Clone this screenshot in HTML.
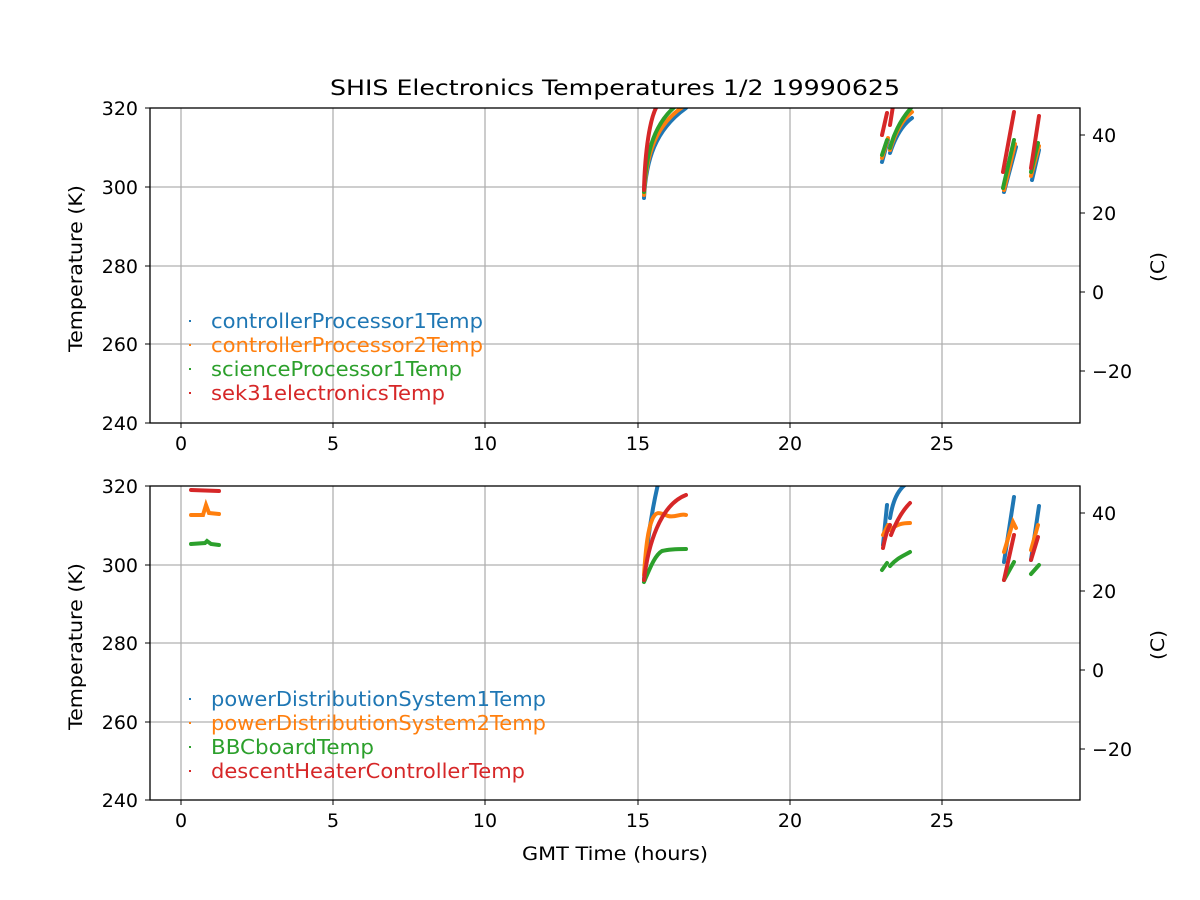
<!DOCTYPE html>
<html><head><style>body{margin:0;background:#fff}svg{display:block}text{font-family:"DejaVu Sans","Liberation Sans",sans-serif}</style></head><body>
<svg width="1200" height="900" xmlns="http://www.w3.org/2000/svg">
<defs>
<clipPath id="c1"><rect x="150" y="108" width="930" height="315"/></clipPath>
<clipPath id="c2"><rect x="150" y="486" width="930" height="314"/></clipPath>
</defs>
<text x="330" y="95" font-size="21" textLength="570" lengthAdjust="spacingAndGlyphs">SHIS Electronics Temperatures 1/2 19990625</text>
<g stroke="#b0b0b0" stroke-width="1.3">
<line x1="181" y1="108" x2="181" y2="423"/><line x1="333" y1="108" x2="333" y2="423"/><line x1="485" y1="108" x2="485" y2="423"/><line x1="638" y1="108" x2="638" y2="423"/><line x1="790" y1="108" x2="790" y2="423"/><line x1="942" y1="108" x2="942" y2="423"/>
<line x1="150" y1="187" x2="1080" y2="187"/><line x1="150" y1="266" x2="1080" y2="266"/><line x1="150" y1="344" x2="1080" y2="344"/>
<line x1="181" y1="486" x2="181" y2="800"/><line x1="333" y1="486" x2="333" y2="800"/><line x1="485" y1="486" x2="485" y2="800"/><line x1="638" y1="486" x2="638" y2="800"/><line x1="790" y1="486" x2="790" y2="800"/><line x1="942" y1="486" x2="942" y2="800"/>
<line x1="150" y1="565" x2="1080" y2="565"/><line x1="150" y1="643" x2="1080" y2="643"/><line x1="150" y1="722" x2="1080" y2="722"/>
</g>
<g fill="none" stroke-width="4" stroke-linecap="round" clip-path="url(#c1)">
<g stroke="#1f77b4"><path d="M644,198 C646,160 655,130 686,108"/><path d="M882,162 L888,140"/><path d="M890,153 C895,138 902,125 912,118"/><path d="M1004,192 L1016,147"/><path d="M1032,180 L1039,150"/></g>
<g stroke="#ff7f0e"><path d="M644,195 C646,155 655,125 684,106"/><path d="M882,158 L888,138"/><path d="M890,150 C895,133 902,120 912,112"/><path d="M1004,190 L1015,144"/><path d="M1031,176 L1039,146"/></g>
<g stroke="#2ca02c"><path d="M644,192 C646,150 655,122 678,104"/><path d="M882,155 L887,140"/><path d="M890,148 C895,130 902,118 911,108"/><path d="M1003,188 L1014,140"/><path d="M1031,172 L1038,143"/></g>
<g stroke="#d62728"><path d="M644,190 C645,150 650,118 657,106"/><path d="M882,135 L887,113"/><path d="M890,125 L893,106"/><path d="M1003,172 L1014,112"/><path d="M1031,168 L1039,116"/></g>
</g>
<g fill="none" stroke-width="4" stroke-linecap="round" clip-path="url(#c2)">
<g stroke="#1f77b4"><path d="M644,580 C647,540 652,510 658,484"/><path d="M883,545 L887,505"/><path d="M890,518 C893,500 898,490 906,484"/><path d="M1004,562 L1014,497"/><path d="M1031,560 L1039,506"/></g>
<g stroke="#ff7f0e"><path d="M644,575 C646,545 648,530 652,520 C656,510 660,513 668,516 C676,518 680,513 686,515"/><path d="M883,535 L888,525"/><path d="M890,530 C897,524 903,523 910,523"/><path d="M1004,552 L1013,522 L1016,528"/><path d="M1031,550 L1038,525"/></g>
<g stroke="#2ca02c"><path d="M644,582 C650,568 655,555 662,551 C670,549 678,549 686,549"/><path d="M882,570 L887,563"/><path d="M890,566 C897,558 903,556 910,552"/><path d="M1004,580 L1014,562"/><path d="M1031,574 L1039,565"/><path d="M191,544 L205,543 L207,541 L211,544 L219,545"/></g>
<g stroke="#d62728"><path d="M644,580 C648,545 660,505 686,495"/><path d="M883,548 C885,538 887,530 890,525"/><path d="M891,535 C896,522 903,510 910,503"/><path d="M1004,580 L1014,535"/><path d="M1031,560 L1038,537"/><path d="M191,490 L219,491"/></g>
<g stroke="#ff7f0e"><path d="M191,515 L203,515 L206,505 L209,513 L219,514"/></g>
</g>
<g fill="none" stroke="#000" stroke-width="1.3"><rect x="150" y="108" width="930" height="315"/><rect x="150" y="486" width="930" height="314"/></g>
<g stroke="#000" stroke-width="1">
<path d="M181,423v5M333,423v5M485,423v5M638,423v5M790,423v5M942,423v5M150,108h-5M150,187h-5M150,266h-5M150,344h-5M150,423h-5M1080,135h5M1080,213h5M1080,292h5M1080,371h5"/>
<path d="M181,800v5M333,800v5M485,800v5M638,800v5M790,800v5M942,800v5M150,486h-5M150,565h-5M150,643h-5M150,722h-5M150,800h-5M1080,513h5M1080,591h5M1080,670h5M1080,749h5"/>
</g>
<g font-size="19" text-anchor="middle">
<text x="181" y="450">0</text><text x="333" y="450">5</text><text x="485" y="450">10</text><text x="638" y="450">15</text><text x="790" y="450">20</text><text x="942" y="450">25</text>
<text x="181" y="827">0</text><text x="333" y="827">5</text><text x="485" y="827">10</text><text x="638" y="827">15</text><text x="790" y="827">20</text><text x="942" y="827">25</text>
</g>
<g font-size="19" text-anchor="end">
<text x="138" y="115">320</text><text x="138" y="194">300</text><text x="138" y="273">280</text><text x="138" y="351">260</text><text x="138" y="430">240</text>
<text x="138" y="493">320</text><text x="138" y="572">300</text><text x="138" y="650">280</text><text x="138" y="729">260</text><text x="138" y="807">240</text>
</g>
<g font-size="19">
<text x="1092" y="142">40</text><text x="1092" y="220">20</text><text x="1092" y="299">0</text><text x="1092" y="378">−20</text>
<text x="1092" y="520">40</text><text x="1092" y="598">20</text><text x="1092" y="677">0</text><text x="1092" y="756">−20</text>
</g>
<g font-size="19">
<text transform="translate(82,352) rotate(-90)" textLength="167" lengthAdjust="spacingAndGlyphs">Temperature (K)</text>
<text transform="translate(82,730) rotate(-90)" textLength="167" lengthAdjust="spacingAndGlyphs">Temperature (K)</text>
<text transform="translate(1164,282) rotate(-90)" textLength="30" lengthAdjust="spacingAndGlyphs">(C)</text>
<text transform="translate(1164,660) rotate(-90)" textLength="30" lengthAdjust="spacingAndGlyphs">(C)</text>
<text x="522" y="860" textLength="186" lengthAdjust="spacingAndGlyphs">GMT Time (hours)</text>
</g>
<g font-size="20">
<rect x="189" y="320" width="2" height="2" fill="#1f77b4"/><text x="211" y="328" fill="#1f77b4" textLength="272" lengthAdjust="spacingAndGlyphs">controllerProcessor1Temp</text>
<rect x="189" y="344" width="2" height="2" fill="#ff7f0e"/><text x="211" y="352" fill="#ff7f0e" textLength="272" lengthAdjust="spacingAndGlyphs">controllerProcessor2Temp</text>
<rect x="189" y="368" width="2" height="2" fill="#2ca02c"/><text x="211" y="376" fill="#2ca02c" textLength="251" lengthAdjust="spacingAndGlyphs">scienceProcessor1Temp</text>
<rect x="189" y="392" width="2" height="2" fill="#d62728"/><text x="211" y="400" fill="#d62728" textLength="234" lengthAdjust="spacingAndGlyphs">sek31electronicsTemp</text>
<rect x="189" y="698" width="2" height="2" fill="#1f77b4"/><text x="211" y="706" fill="#1f77b4" textLength="335" lengthAdjust="spacingAndGlyphs">powerDistributionSystem1Temp</text>
<rect x="189" y="722" width="2" height="2" fill="#ff7f0e"/><text x="211" y="730" fill="#ff7f0e" textLength="335" lengthAdjust="spacingAndGlyphs">powerDistributionSystem2Temp</text>
<rect x="189" y="746" width="2" height="2" fill="#2ca02c"/><text x="211" y="754" fill="#2ca02c" textLength="163" lengthAdjust="spacingAndGlyphs">BBCboardTemp</text>
<rect x="189" y="770" width="2" height="2" fill="#d62728"/><text x="211" y="778" fill="#d62728" textLength="314" lengthAdjust="spacingAndGlyphs">descentHeaterControllerTemp</text>
</g>
</svg>
</body></html>
